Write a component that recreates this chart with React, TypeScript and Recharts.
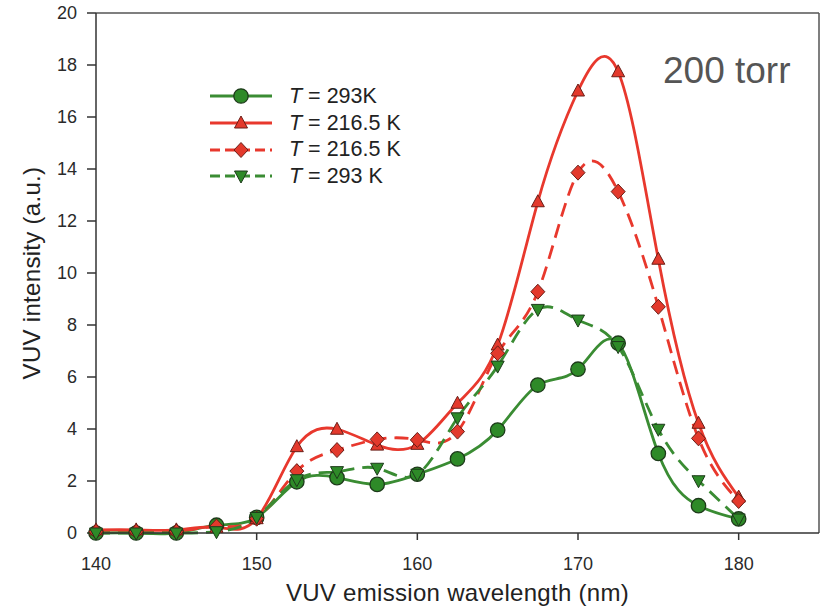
import { LineChart, Line, XAxis, YAxis, Label, ReferenceLine } from "recharts";

const wavelength = [140, 142.5, 145, 147.5, 150, 152.5, 155, 157.5, 160, 162.5, 165, 167.5, 170, 172.5, 175, 177.5, 180];
const t293Circle = [0, 0, 0, 0.3, 0.6, 1.97, 2.13, 1.87, 2.26, 2.85, 3.96, 5.69, 6.3, 7.3, 3.06, 1.05, 0.54];
const t216Triangle = [0.12, 0.12, 0.12, 0.22, 0.55, 3.32, 3.99, 3.38, 3.41, 4.99, 7.23, 12.74, 17.0, 17.74, 10.53, 4.22, 1.38];
const t216Diamond = [0.05, 0.05, 0.05, 0.25, 0.55, 2.38, 3.19, 3.6, 3.58, 3.9, 6.91, 9.28, 13.86, 13.13, 8.7, 3.64, 1.23];
const t293Down = [0, 0, 0, 0.05, 0.6, 2.05, 2.36, 2.49, 2.26, 4.43, 6.42, 8.6, 8.19, 7.17, 3.99, 2.01, 0.54];

const xTicks = [140, 150, 160, 170, 180];
const yTicks = [0, 2, 4, 6, 8, 10, 12, 14, 16, 18, 20];

const data = wavelength.map((w, i) => ({
  w,
  c293: t293Circle[i],
  t216: t216Triangle[i],
  d216: t216Diamond[i],
  v293: t293Down[i],
}));

const GREEN = "#3a8c33";
const GREEN_FILL = "#2e8a28";
const GREEN_EDGE = "#1d3a1a";
const RED = "#e8382d";
const RED_FILL = "#e3392c";
const RED_EDGE = "#6a1d16";
const FONT = "'Liberation Sans', Arial, Helvetica, sans-serif";

type Mk = { cx: number; cy: number };

const CircleMark = ({ cx, cy }: Mk) => (
  <circle cx={cx} cy={cy} r={7.2} fill={GREEN_FILL} stroke={GREEN_EDGE} strokeWidth={1.3} />
);
const TriUp = ({ cx, cy }: Mk) => (
  <polygon points={`${cx},${cy - 7} ${cx - 6.5},${cy + 5} ${cx + 6.5},${cy + 5}`} fill={RED_FILL} stroke={RED_EDGE} strokeWidth={1} />
);
const TriDown = ({ cx, cy }: Mk) => (
  <polygon points={`${cx},${cy + 7} ${cx - 6.5},${cy - 5} ${cx + 6.5},${cy - 5}`} fill={GREEN_FILL} stroke={GREEN_EDGE} strokeWidth={1} />
);
const Diamond = ({ cx, cy }: Mk) => (
  <polygon points={`${cx},${cy - 7.5} ${cx + 7},${cy} ${cx},${cy + 7.5} ${cx - 7},${cy}`} fill={RED_FILL} stroke={RED_EDGE} strokeWidth={1} />
);

const legendRows = [
  { label: "293K", color: GREEN, dash: undefined, Mark: CircleMark },
  { label: "216.5 K", color: RED, dash: undefined, Mark: TriUp },
  { label: "216.5 K", color: RED, dash: "10 5", Mark: Diamond },
  { label: "293 K", color: GREEN, dash: "10 5", Mark: TriDown },
];

const LegendBox = () => (
  <div style={{ position: "absolute", left: 205, top: 83, fontFamily: FONT, fontSize: 21.5, color: "#222" }}>
    {legendRows.map((r, i) => (
      <div key={i} style={{ display: "flex", alignItems: "center", height: 26.7 }}>
        <svg width={78} height={26}>
          <line x1={5} x2={67} y1={13} y2={13} stroke={r.color} strokeWidth={3} strokeDasharray={r.dash} />
          <r.Mark cx={36} cy={13} />
        </svg>
        <span style={{ marginLeft: 6 }}>
          <i>T</i> = {r.label}
        </span>
      </div>
    ))}
  </div>
);

export default function App() {
  return (
    <div style={{ position: "absolute", left: 0, top: 0, width: 828, height: 614, background: "#fff" }}>
      <LineChart width={828} height={614} data={data} margin={{ top: 13, right: 9, left: 0, bottom: 0 }}>
        <XAxis
          dataKey="w"
          type="number"
          domain={[140, 185]}
          ticks={xTicks}
          height={81}
          tickSize={7}
          tickMargin={17}
          stroke="#333"
          strokeWidth={1.5}
          tick={{ fontSize: 18, fill: "#2a2a2a", fontFamily: FONT }}
        >
          <Label
            content={({ viewBox }: any) => (
              <text
                x={viewBox.x + viewBox.width / 2}
                y={viewBox.y + 68}
                textAnchor="middle"
                fontSize={24}
                fill="#222"
                fontFamily={FONT}
                letterSpacing={0.3}
              >
                VUV emission wavelength (nm)
              </text>
            )}
          />
        </XAxis>
        <YAxis
          type="number"
          domain={[0, 20]}
          ticks={yTicks}
          width={96}
          tickSize={9}
          tickMargin={10}
          stroke="#333"
          strokeWidth={1.5}
          tick={{ fontSize: 18, fill: "#2a2a2a", fontFamily: FONT }}
        >
          <Label
            content={({ viewBox }: any) => {
              const cx = viewBox.x + 31;
              const cy = viewBox.y + viewBox.height / 2;
              return (
                <text
                  x={cx}
                  y={cy}
                  transform={`rotate(-90 ${cx} ${cy})`}
                  textAnchor="middle"
                  dominantBaseline="central"
                  fontSize={24}
                  fill="#222"
                  fontFamily={FONT}
                  letterSpacing={0.3}
                >
                  VUV intensity (a.u.)
                </text>
              );
            }}
          />
        </YAxis>
        <ReferenceLine y={20} stroke="#555" strokeWidth={1.5} />
        <ReferenceLine x={185} stroke="#555" strokeWidth={1.5} />
        <Line
          type="natural"
          dataKey="c293"
          stroke={GREEN}
          strokeWidth={2.8}
          isAnimationActive={false}
          dot={(p: any) => <CircleMark key={`c${p.index}`} cx={p.cx} cy={p.cy} />}
        />
        <Line
          type="natural"
          dataKey="t216"
          stroke={RED}
          strokeWidth={2.8}
          isAnimationActive={false}
          dot={(p: any) => <TriUp key={`t${p.index}`} cx={p.cx} cy={p.cy} />}
        />
        <Line
          type="natural"
          dataKey="d216"
          stroke={RED}
          strokeWidth={2.8}
          strokeDasharray="14 8"
          isAnimationActive={false}
          dot={(p: any) => <Diamond key={`d${p.index}`} cx={p.cx} cy={p.cy} />}
        />
        <Line
          type="natural"
          dataKey="v293"
          stroke={GREEN}
          strokeWidth={2.8}
          strokeDasharray="14 8"
          isAnimationActive={false}
          dot={(p: any) => <TriDown key={`v${p.index}`} cx={p.cx} cy={p.cy} />}
        />
      </LineChart>
      <LegendBox />
      <div
        style={{
          position: "absolute",
          left: 663,
          top: 52,
          fontFamily: FONT,
          fontSize: 37,
          lineHeight: "37px",
          color: "#555",
        }}
      >
        200 torr
      </div>
    </div>
  );
}
